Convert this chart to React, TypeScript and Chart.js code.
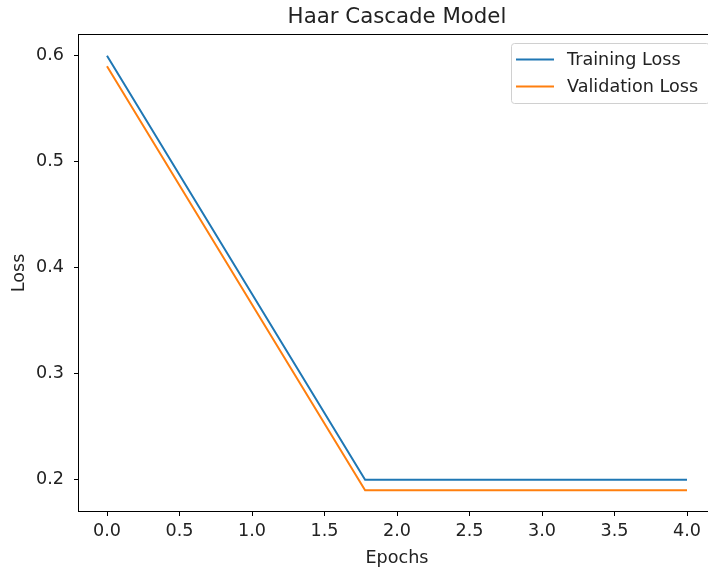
import React, { useEffect, useRef } from "react";
import { Chart, registerables } from "chart.js";

Chart.register(...registerables);

const titleText = "Haar Cascade Model";
const xLabel = "Epochs";
const yLabel = "Loss";
const seriesNames = ["Training Loss", "Validation Loss"];
const seriesColors = ["#1f77b4", "#ff7f0e"];
const epochs = [0, 1.78, 4];
const trainingLoss = [0.6, 0.2, 0.2];
const validationLoss = [0.59, 0.19, 0.19];
const xTicks = [0, 0.5, 1, 1.5, 2, 2.5, 3, 3.5, 4];
const yTicks = [0.2, 0.3, 0.4, 0.5, 0.6];

const FONT = "'DejaVu Sans', sans-serif";
const FS = 17.6;

const decorPlugin = {
  id: "decor",
  afterDraw(chart: any) {
    const { ctx, chartArea } = chart;
    const { left, right, top, bottom } = chartArea;
    ctx.save();
    // frame
    ctx.strokeStyle = "#000";
    ctx.lineWidth = 1;
    ctx.strokeRect(left + 0.5, top + 0.5, right - left - 1, bottom - top - 1);
    // title
    ctx.fillStyle = "#222";
    ctx.font = `21.3px ${FONT}`;
    ctx.textAlign = "center";
    ctx.textBaseline = "middle";
    ctx.fillText(titleText, (left + right) / 2, 17);
    // legend
    const bw = 198;
    const bh = 60;
    const bx = right - 7 - bw;
    const by = top + 9;
    ctx.fillStyle = "rgba(255,255,255,0.8)";
    ctx.strokeStyle = "#d0d0d0";
    ctx.lineWidth = 1;
    ctx.beginPath();
    (ctx as any).roundRect(bx + 0.5, by + 0.5, bw, bh, 3);
    ctx.fill();
    ctx.stroke();
    ctx.font = `${FS}px ${FONT}`;
    ctx.textAlign = "left";
    ctx.textBaseline = "middle";
    chart.data.datasets.forEach((ds: any, i: number) => {
      const y = by + 16.5 + i * 27;
      ctx.strokeStyle = ds.borderColor;
      ctx.lineWidth = 2;
      ctx.beginPath();
      ctx.moveTo(bx + 5, y);
      ctx.lineTo(bx + 43, y);
      ctx.stroke();
      ctx.fillStyle = "#222";
      ctx.fillText(ds.label, bx + 56, y + 1);
    });
    ctx.restore();
  },
};

export default function App() {
  const ref = useRef<HTMLCanvasElement>(null);
  useEffect(() => {
    const canvas = ref.current!;
    const chart = new Chart(canvas, {
      type: "line",
      data: {
        datasets: [
          {
            label: seriesNames[0],
            data: epochs.map((x, i) => ({ x, y: trainingLoss[i] })),
            borderColor: seriesColors[0],
            backgroundColor: seriesColors[0],
            borderWidth: 2,
            pointRadius: 0,
            tension: 0,
          },
          {
            label: seriesNames[1],
            data: epochs.map((x, i) => ({ x, y: validationLoss[i] })),
            borderColor: seriesColors[1],
            backgroundColor: seriesColors[1],
            borderWidth: 2,
            pointRadius: 0,
            tension: 0,
          },
        ],
      },
      options: {
        responsive: false,
        animation: false,
        devicePixelRatio: 1,
        layout: { padding: { top: 34, right: 14, bottom: 0, left: 0 } },
        plugins: { legend: { display: false }, title: { display: false }, tooltip: { enabled: false } },
        scales: {
          x: {
            type: "linear",
            min: -0.2,
            max: 4.2,
            afterFit: (s: any) => { s.height = 57; },
            afterBuildTicks: (s: any) => { s.ticks = xTicks.map((v) => ({ value: v })); },
            grid: { drawOnChartArea: false, drawTicks: true, tickLength: 4, tickColor: "#000" },
            border: { display: false },
            ticks: {
              color: "#222",
              font: { family: FONT, size: FS },
              padding: 5,
              maxRotation: 0,
              autoSkip: false,
              callback: (v: any) => Number(v).toFixed(1),
            },
            title: {
              display: true,
              text: xLabel,
              color: "#222",
              font: { family: FONT, size: FS },
              padding: { top: 2, bottom: 0 },
            },
          },
          y: {
            type: "linear",
            min: 0.1695,
            max: 0.6205,
            afterFit: (s: any) => { s.width = 78; },
            afterBuildTicks: (s: any) => { s.ticks = yTicks.map((v) => ({ value: v })); },
            grid: { drawOnChartArea: false, drawTicks: true, tickLength: 4, tickColor: "#000" },
            border: { display: false },
            ticks: {
              color: "#222",
              font: { family: FONT, size: FS },
              padding: 10,
              autoSkip: false,
              callback: (v: any) => Number(v).toFixed(1),
            },
            title: {
              display: true,
              text: yLabel,
              color: "#222",
              font: { family: FONT, size: FS },
              padding: { top: 9, bottom: 0 },
            },
          },
        },
      },
      plugins: [decorPlugin],
    } as any);
    return () => chart.destroy();
  }, []);
  return (
    <div style={{ position: "fixed", left: 0, top: 0, width: 708, height: 569, overflow: "hidden", background: "#fff" }}>
      <canvas ref={ref} width={730} height={569} style={{ display: "block" }} />
    </div>
  );
}
